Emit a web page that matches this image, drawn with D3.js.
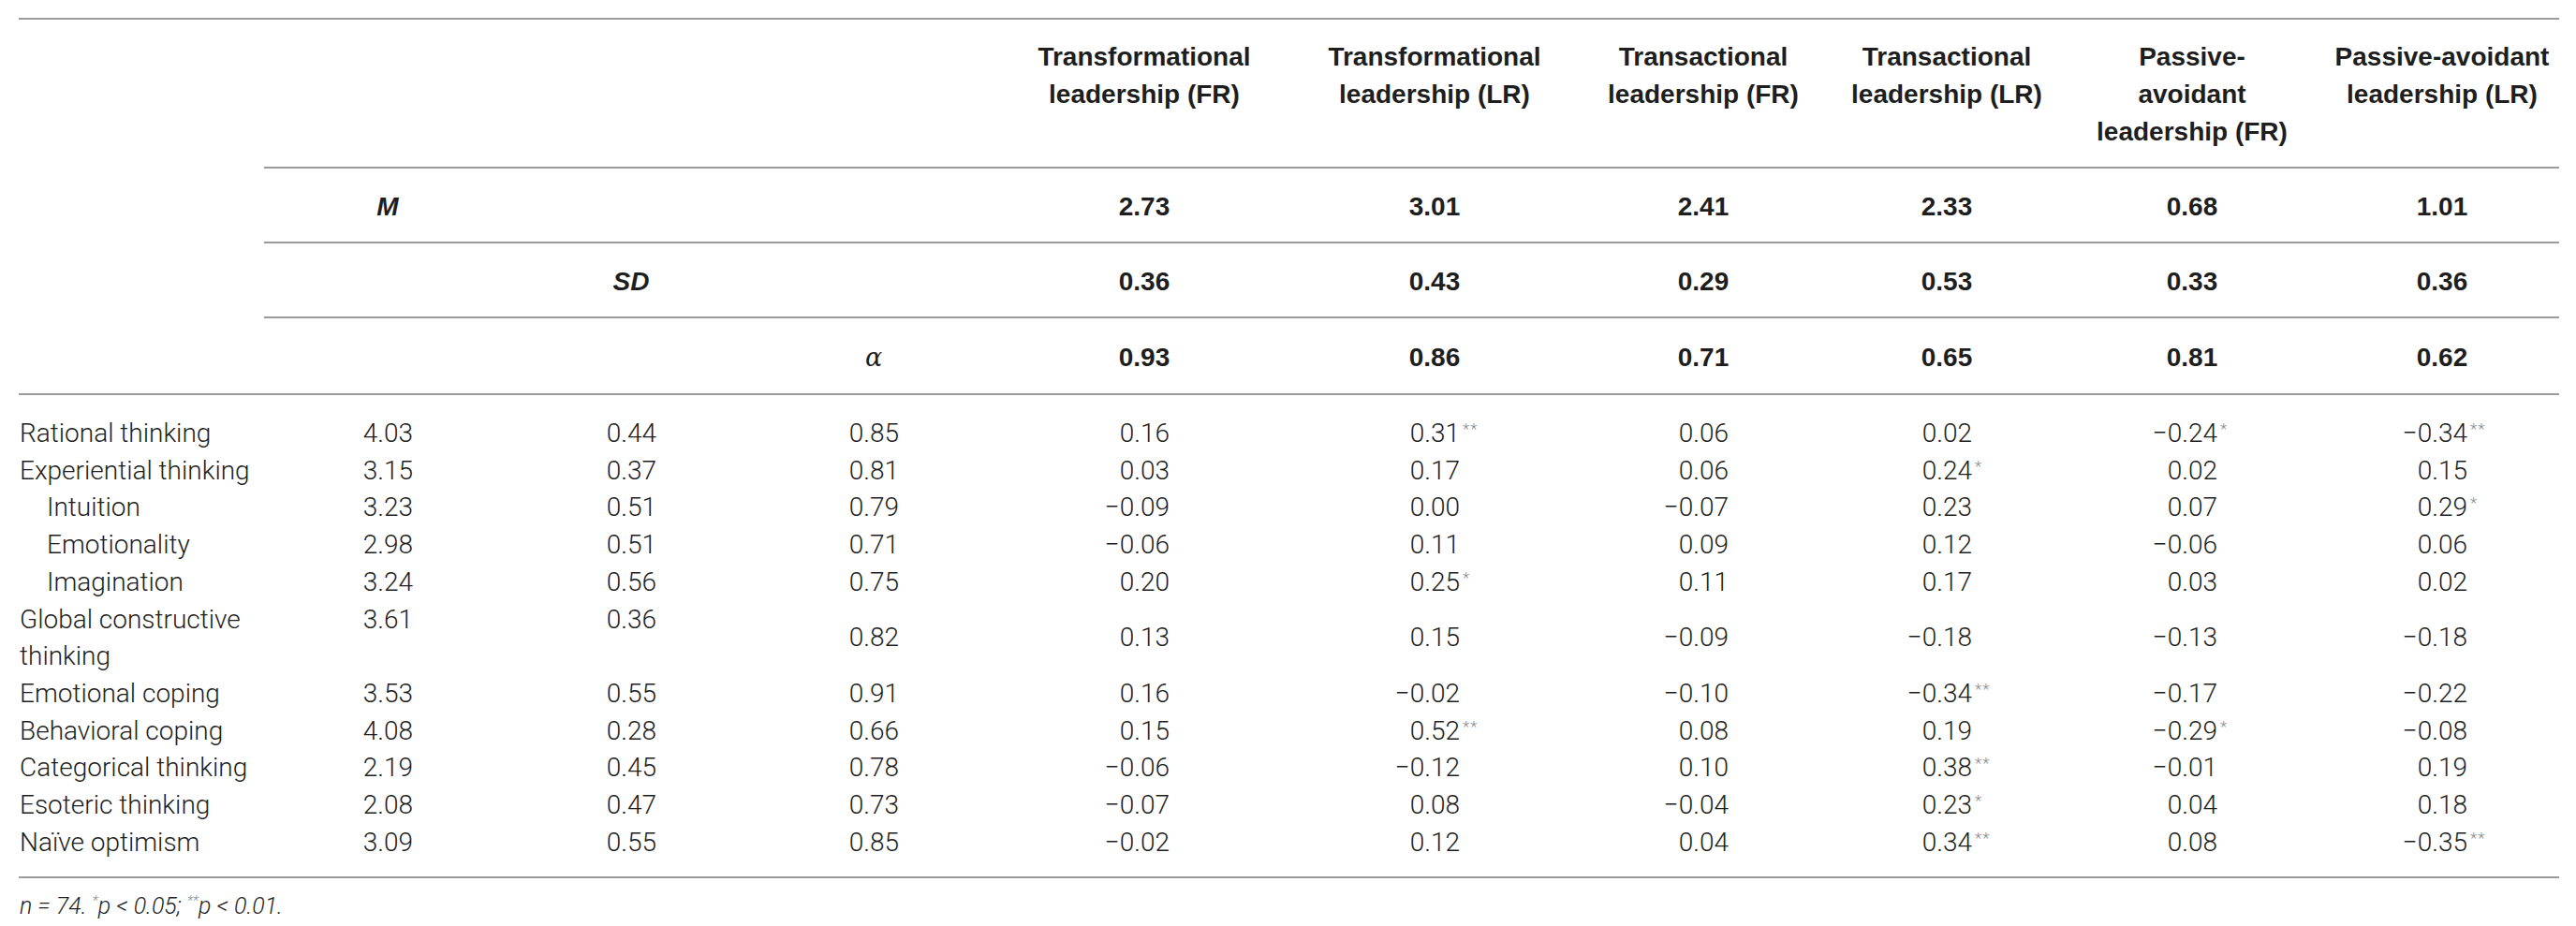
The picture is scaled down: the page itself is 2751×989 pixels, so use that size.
<!DOCTYPE html>
<html>
<head>
<meta charset="utf-8">
<script src="https://cdn.jsdelivr.net/npm/d3@7"></script>
<style>
  body { margin: 0; background: #fff; }
</style>
</head>
<body>
<script>
// ---- data ----
var leaderKeys = ["tfFR", "tfLR", "taFR", "taLR", "paFR", "paLR"];
var leaderHeaders = [
    ["Transformational", "leadership (FR)"],
    ["Transformational", "leadership (LR)"],
    ["Transactional", "leadership (FR)"],
    ["Transactional", "leadership (LR)"],
    ["Passive-", "avoidant", "leadership (FR)"],
    ["Passive-avoidant", "leadership (LR)"]
];
var leaderM = [2.73, 3.01, 2.41, 2.33, 0.68, 1.01];
var leaderSD = [0.36, 0.43, 0.29, 0.53, 0.33, 0.36];
var leaderAlpha = [0.93, 0.86, 0.71, 0.65, 0.81, 0.62];

var rowLabels = ["Rational thinking", "Experiential thinking", "Intuition", "Emotionality",
    "Imagination", "Global constructive thinking", "Emotional coping", "Behavioral coping",
    "Categorical thinking", "Esoteric thinking", "Naïve optimism"];
var subscales = ["Intuition", "Emotionality", "Imagination"];

var rowM = [4.03, 3.15, 3.23, 2.98, 3.24, 3.61, 3.53, 4.08, 2.19, 2.08, 3.09];
var rowSD = [0.44, 0.37, 0.51, 0.51, 0.56, 0.36, 0.55, 0.28, 0.45, 0.47, 0.55];
var rowAlpha = [0.85, 0.81, 0.79, 0.71, 0.75, 0.82, 0.91, 0.66, 0.78, 0.73, 0.85];

// correlations, one list per leadership column
var rTfFR = [0.16, 0.03, -0.09, -0.06, 0.20, 0.13, 0.16, 0.15, -0.06, -0.07, -0.02];
var rTfLR = [0.31, 0.17, 0.00, 0.11, 0.25, 0.15, -0.02, 0.52, -0.12, 0.08, 0.12];
var rTaFR = [0.06, 0.06, -0.07, 0.09, 0.11, -0.09, -0.10, 0.08, 0.10, -0.04, 0.04];
var rTaLR = [0.02, 0.24, 0.23, 0.12, 0.17, -0.18, -0.34, 0.19, 0.38, 0.23, 0.34];
var rPaFR = [-0.24, 0.02, 0.07, -0.06, 0.03, -0.13, -0.17, -0.29, -0.01, 0.04, 0.08];
var rPaLR = [-0.34, 0.15, 0.29, 0.06, 0.02, -0.18, -0.22, -0.08, 0.19, 0.18, -0.35];

// significance stars (number of asterisks)
var sTfFR = [0, 0, 0, 0, 0, 0, 0, 0, 0, 0, 0];
var sTfLR = [2, 0, 0, 0, 1, 0, 0, 2, 0, 0, 0];
var sTaFR = [0, 0, 0, 0, 0, 0, 0, 0, 0, 0, 0];
var sTaLR = [0, 1, 0, 0, 0, 0, 2, 0, 2, 1, 2];
var sPaFR = [1, 0, 0, 0, 0, 0, 0, 1, 0, 0, 0];
var sPaLR = [2, 0, 1, 0, 0, 0, 0, 0, 0, 0, 2];

var corr = [rTfFR, rTfLR, rTaFR, rTaLR, rPaFR, rPaLR];
var stars = [sTfFR, sTfLR, sTaFR, sTaLR, sPaFR, sPaLR];

// ---- layout ----
var svg = d3.select("body")
    .append("svg")
    .attr("width", "2751")
    .attr("height", "989")
    .style('display', 'block');

var sans = "'Liberation Sans', Arial, Helvetica, sans-serif";
var light = "Roboto, 'Liberation Sans', sans-serif";
var ink = "#1e1e1e";
var fmt = d3.format(".2f");

var colKeys = ["M", "SD", "alpha"].concat(leaderKeys);
var x = d3.scaleOrdinal()
    .domain(colKeys)
    .range([414, 674, 933, 1222, 1532, 1819, 2079, 2341, 2608]);
var numEdge = 27;      // numbers are right-aligned a bit past column centre
var left = 20, right = 2733;
var labelWidth = 262;

function rule(x0, x1, y) {
    svg.append("line")
        .attr("x1", x0).attr("x2", x1)
        .attr("y1", y).attr("y2", y)
        .attr("stroke", "#9b9b9b")
        .attr("stroke-width", 2);
}

rule(left, right, 20);
rule(282, right, 179);
rule(282, right, 259);
rule(282, right, 339);
rule(left, right, 421);
rule(left, right, 937);

// column headers
leaderKeys.forEach(function (k, i) {
    var t = svg.append("text")
        .attr("text-anchor", "middle")
        .style("font-family", sans)
        .style("font-weight", "bold")
        .style("font-size", "28px")
        .attr("fill", ink);
    leaderHeaders[i].forEach(function (line, j) {
        t.append("tspan")
            .attr("x", x(k))
            .attr("y", 70 + 40 * j)
            .text(line);
    });
});

// M / SD / alpha summary rows
var summary = [
    {key: "M", label: "M", vals: leaderM, y: 220},
    {key: "SD", label: "SD", vals: leaderSD, y: 300},
    {key: "alpha", label: "α", vals: leaderAlpha, y: 381}
];
summary.forEach(function (s) {
    svg.append("text")
        .attr("x", x(s.key))
        .attr("y", s.y + 10)
        .attr("text-anchor", "middle")
        .style("font-family", s.key === "alpha" ? "'DejaVu Serif', 'Liberation Serif', serif" : sans)
        .style("font-weight", s.key === "alpha" ? "normal" : "bold")
        .style("font-style", "italic")
        .style("font-size", s.key === "alpha" ? "27px" : "28px")
        .attr("fill", ink)
        .text(s.label);
    svg.selectAll(null)
        .data(s.vals)
        .enter()
        .append("text")
        .attr("x", function (d, i) { return x(leaderKeys[i]); })
        .attr("y", s.y + 10)
        .attr("text-anchor", "middle")
        .style("font-family", sans)
        .style("font-weight", "bold")
        .style("font-size", "28px")
        .attr("fill", ink)
        .text(function (d) { return fmt(d); });
});

// body rows: wrap labels, count lines
var measure = svg.append("text")
    .style("font-family", light)
    .style("font-weight", 300)
    .style("font-size", "28px");

function wrap(label, width) {
    var words = label.split(" "), lines = [], cur = "";
    words.forEach(function (w) {
        var tryLine = cur ? cur + " " + w : w;
        measure.text(tryLine);
        if (cur && measure.node().getComputedTextLength() > width) {
            lines.push(cur);
            cur = w;
        } else {
            cur = tryLine;
        }
    });
    lines.push(cur);
    return lines;
}

var rows = [];
var lineIdx = 0;
rowLabels.forEach(function (label, i) {
    var sub = subscales.indexOf(label) >= 0;
    var lines = wrap(label, labelWidth - (sub ? 29 : 0));
    rows.push({i: i, label: label, sub: sub, lines: lines, first: lineIdx});
    lineIdx += lines.length;
});
measure.remove();

var y = d3.scaleLinear()
    .domain([0, lineIdx - 1])
    .range([462, 898.7]);

function mid(r) { return (y(r.first) + y(r.first + r.lines.length - 1)) / 2; }

var body = svg.append("g")
    .style("font-family", light)
    .style("font-weight", 300)
    .style("font-size", "28px")
    .attr("fill", ink);

rows.forEach(function (r) {
    var t = body.append("text");
    r.lines.forEach(function (line, j) {
        t.append("tspan")
            .attr("x", left + 1 + (r.sub ? 29 : 0))
            .attr("y", y(r.first + j) + 10)
            .text(line);
    });
});

// M and SD sit on the first line of the row, alpha and correlations are centred
[["M", rowM, false], ["SD", rowSD, false], ["alpha", rowAlpha, true]].forEach(function (c) {
    body.selectAll(null)
        .data(rows)
        .enter()
        .append("text")
        .attr("x", x(c[0]) + numEdge)
        .attr("y", function (r) { return (c[2] ? mid(r) : y(r.first)) + 10; })
        .attr("text-anchor", "end")
        .text(function (r) { return fmt(c[1][r.i]); });
});

leaderKeys.forEach(function (k, ci) {
    body.selectAll(null)
        .data(rows)
        .enter()
        .append("text")
        .attr("x", x(k) + numEdge)
        .attr("y", function (r) { return mid(r) + 10; })
        .attr("text-anchor", "end")
        .text(function (r) { return fmt(corr[ci][r.i]); });
    body.selectAll(null)
        .data(rows.filter(function (r) { return stars[ci][r.i] > 0; }))
        .enter()
        .append("text")
        .attr("x", x(k) + numEdge + 3)
        .attr("y", function (r) { return mid(r) + 2; })
        .attr("text-anchor", "start")
        .style("font-size", "17px")
        .style("letter-spacing", "1px")
        .attr("fill", "#8a8a8a")
        .text(function (r) { return d3.range(stars[ci][r.i]).map(function () { return "*"; }).join(""); });
});

// footnote
var note = svg.append("text")
    .attr("x", left + 1)
    .attr("y", 976)
    .style("font-family", light)
    .style("font-weight", 300)
    .style("font-style", "italic")
    .style("font-size", "25px")
    .attr("fill", ink);
note.append("tspan").text("n = 74. ");
note.append("tspan").attr("dy", -9).style("font-size", "15px").attr("fill", "#8a8a8a").text("*");
note.append("tspan").attr("dy", 9).text("p < 0.05; ");
note.append("tspan").attr("dy", -9).style("font-size", "15px").attr("fill", "#8a8a8a").text("**");
note.append("tspan").attr("dy", 9).text("p < 0.01.");
</script>
</body>
</html>
